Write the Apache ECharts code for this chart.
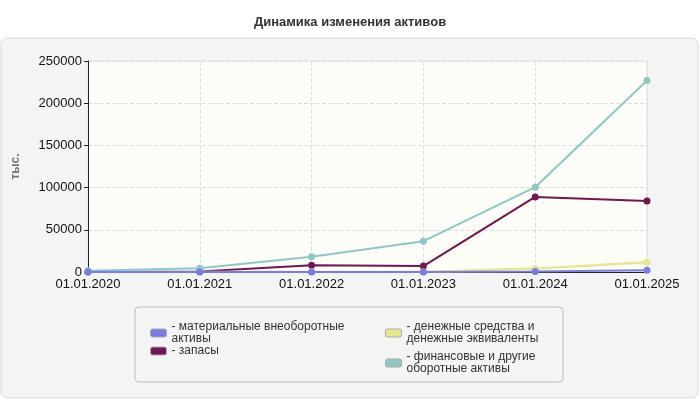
<!DOCTYPE html><html><head><meta charset="utf-8"><script src="https://cdn.jsdelivr.net/npm/echarts@6/dist/echarts.min.js"></script>
<style>html,body{margin:0;padding:0;background:#fff}#c{width:700px;height:400px}</style></head><body><div id="c"></div>
<script>
const categories=['01.01.2020','01.01.2021','01.01.2022','01.01.2023','01.01.2024','01.01.2025'];
const names=['материальные внеоборотные активы','запасы','денежные средства и денежные эквиваленты','финансовые и другие оборотные активы'];
const material=[0,0,0,0,500,2000];
const zapasy=[0,500,8000,7000,89000,84000];
const dengi=[0,0,0,0,4000,11500];
const fin=[1500,4500,18000,36500,100500,227000];
const colors=['#7b7be8','#74164f','#e6e68a','#8cc8c4'];
const labels={};labels[names[0]]='материальные внеоборотные\nактивы';labels[names[1]]='запасы';
labels[names[2]]='денежные средства и\nденежные эквиваленты';labels[names[3]]='финансовые и другие\nоборотные активы';
const ch=echarts.init(document.getElementById('c'));
const leg=(data,left,gap)=>({data:data,orient:'vertical',left:left,top:316,itemWidth:16,itemHeight:8,itemGap:gap,icon:'roundRect',
 formatter:n=>'- '+labels[n],textStyle:{fontFamily:'Liberation Sans',fontSize:12,color:'#333',lineHeight:12},
 itemStyle:{borderColor:'#aaa',borderWidth:1}});
const ser=(i,d,w)=>({name:names[i],type:'line',data:d,symbol:'circle',symbolSize:7,z:i==0?5:2,
 lineStyle:{width:w,color:colors[i]},itemStyle:{color:colors[i]},emphasis:{disabled:true}});
ch.setOption({animation:false,
 graphic:[{type:'rect',shape:{x:1,y:38,width:697,height:360,r:6},style:{fill:'#f4f4f4',stroke:'#d8d8d8'},z:-10},
  {type:'rect',shape:{x:135,y:307,width:428,height:75,r:4},style:{fill:'#f4f4f4',stroke:'#bbb'},z:-5}],
 title:{text:'Динамика изменения активов',left:'center',top:11,textStyle:{fontFamily:'Liberation Sans',fontSize:13,fontWeight:'bold',color:'#333'}},
 legend:[leg([names[0],names[1]],145,0),leg([names[2],names[3]],380,6)],
 grid:{left:88,right:53,top:61,bottom:128,show:true,backgroundColor:'#fdfdf8',borderColor:'#e4e4e4'},
 xAxis:{type:'category',data:categories,boundaryGap:false,axisLine:{lineStyle:{color:'#222'}},axisTick:{show:false},
  axisLabel:{color:'#111',fontFamily:'Liberation Sans',fontSize:13,interval:0,margin:6},
  splitLine:{show:true,lineStyle:{type:'dashed',color:'#ddd'}}},
 yAxis:{type:'value',min:0,max:250000,interval:50000,name:'тыс.',nameLocation:'middle',nameGap:66,
  nameTextStyle:{color:'#777',fontWeight:'bold',fontFamily:'Liberation Sans',fontSize:12},
  axisLine:{show:true,lineStyle:{color:'#222'}},axisTick:{show:true,length:4,lineStyle:{color:'#222'}},
  axisLabel:{color:'#111',fontFamily:'Liberation Sans',fontSize:13,margin:6,formatter:v=>String(v)},
  splitLine:{lineStyle:{type:'dashed',color:'#ddd'}}},
 series:[ser(0,material,2),ser(1,zapasy,2),ser(2,dengi,2.5),ser(3,fin,2)]});
</script></body></html>
